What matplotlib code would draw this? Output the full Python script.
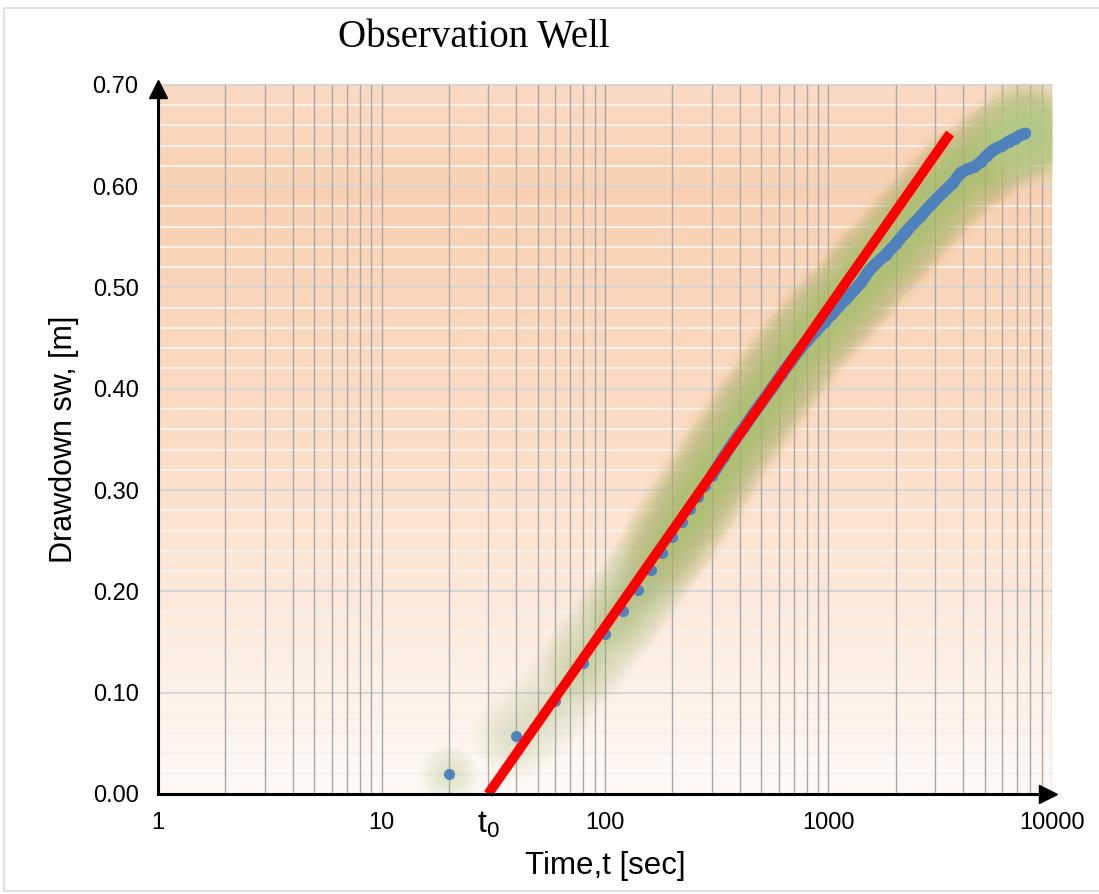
import numpy as np
import matplotlib.pyplot as plt
from matplotlib.colors import LinearSegmentedColormap
from matplotlib.patches import Rectangle
from matplotlib.transforms import offset_copy
from matplotlib.ticker import FixedLocator, LogLocator, NullFormatter

plt.rcParams['font.family'] = ['Liberation Sans', 'DejaVu Sans']
plt.rcParams['mathtext.fontset'] = 'custom'
plt.rcParams['mathtext.rm'] = 'Liberation Sans'
plt.rcParams['mathtext.it'] = 'Liberation Sans'

# observation well drawdown data (time in sec, drawdown in m)
time_s = [20, 40, 60, 80, 100, 120, 140, 160, 180, 200, 220, 240, 260, 280, 300,
          340, 380, 420, 460, 500, 560, 620, 680, 740, 800, 880, 960, 1040, 1120,
          1200, 1300, 1400, 1500, 1600, 1800, 2000, 2200, 2400, 2600, 2800, 3000,
          3300, 3600, 3900, 4200, 4500, 4800, 5100, 5400, 5700, 6000, 6400, 6800,
          7200, 7600]
drawdown = [0.020, 0.057, 0.092, 0.129, 0.158, 0.181, 0.201, 0.221, 0.238, 0.254,
            0.268, 0.281, 0.293, 0.304, 0.314, 0.333, 0.349, 0.362, 0.375, 0.386,
            0.401, 0.415, 0.427, 0.438, 0.447, 0.457, 0.466, 0.474, 0.482, 0.489,
            0.497, 0.505, 0.515, 0.522, 0.532, 0.543, 0.554, 0.563, 0.571, 0.579,
            0.586, 0.595, 0.603, 0.613, 0.617, 0.619, 0.624, 0.630, 0.635, 0.638,
            0.640, 0.644, 0.647, 0.650, 0.652]

# Jacob straight-line fit
trend_t = [30, 3500]
trend_s = [0.0, 0.652]

x_ticks = [1, 10, 100, 1000, 10000]
x_labels = ['1', '10', '100', '1000', '10000']
y_ticks = [0.0, 0.1, 0.2, 0.3, 0.4, 0.5, 0.6, 0.7]

t = np.array(time_s)
s = np.array(drawdown)

fig = plt.figure(figsize=(10.99, 8.94), dpi=100)
ax = fig.add_axes([0.1438, 0.1119, 0.8134, 0.7932])

# background gradient
cmap = LinearSegmentedColormap.from_list('bg', [(0.0, '#FFF9F5'), (0.5, '#FBDDC6'),
                                                 (0.85, '#F9D1B2'), (1.0, '#FBDAC2')])
grad = np.linspace(0, 1, 256).reshape(-1, 1)
ax.imshow(grad, cmap=cmap, aspect='auto', extent=[0, 1, 0, 1], origin='lower',
          transform=ax.transAxes, zorder=0)

ax.set_xscale('log')
ax.set_xlim(1, 10000)
ax.set_ylim(0, 0.70)

# horizontal grid (minor white, major light gray)
for yv in np.arange(0.02, 0.70, 0.02):
    major = abs(yv * 10 - round(yv * 10)) < 1e-6
    ax.axhline(yv, color='#D6D6D6' if major else '#F6F1EC', lw=1.5, zorder=0.8)
ax.axhline(0.70, color='#D6D6D6', lw=1.5, zorder=0.8, clip_on=False)

ax.xaxis.set_major_locator(FixedLocator(x_ticks))
ax.xaxis.set_minor_locator(LogLocator(base=10, subs=np.arange(2, 10)))
ax.xaxis.set_minor_formatter(NullFormatter())
ax.set_xticklabels(x_labels)
ax.set_yticks(y_ticks)
ax.set_yticklabels(['%.2f' % v for v in y_ticks])
ax.grid(True, axis='x', which='both', color='#A8A8A8', lw=1.0)
ax.set_axisbelow('line')

ax.tick_params(axis='both', which='both', length=0, labelsize=17)
ax.tick_params(axis='y', pad=14)
ax.tick_params(axis='x', pad=13)

for sp in ['top', 'right']:
    ax.spines[sp].set_visible(False)
for sp in ['left', 'bottom']:
    ax.spines[sp].set_linewidth(2.2)
    ax.spines[sp].set_zorder(5)

# axis arrow heads
ax.plot([0], [1], marker='^', ms=13, color='k', clip_on=False, zorder=6,
        transform=offset_copy(ax.transAxes, fig=fig, y=-3, units='points'))
ax.plot([1], [0], marker='>', ms=13, color='k', clip_on=False, zorder=6,
        transform=offset_copy(ax.transAxes, fig=fig, x=-3, units='points'))

# soft green glow around the data, building up gradually with time
edge = '#D8B060'
glow = '#A9C27C'
for start in [1, 3, 5, 7, 9, 11]:
    for w in np.arange(62, 10, -5):
        ax.plot(t[start:], s[start:], color=glow, lw=w, alpha=0.032,
                solid_capstyle='round', zorder=2)
for w in np.arange(72, 60, -4):
    ax.plot(t[9:], s[9:], color=edge, lw=w, alpha=0.05, solid_capstyle='round', zorder=2)
for w in np.arange(78, 14, -6):
    ax.plot(t[-1:], s[-1:], 'o', color='#BBD090', ms=w, mew=0, alpha=0.12, zorder=2)
for w in np.arange(42, 8, -5):
    ax.plot(t[:1], s[:1], 'o', color=glow, ms=w, mew=0, alpha=0.05, zorder=2)

# data points
dense = t >= 300
ax.plot(t[dense], s[dense], color='#4F81BD', lw=8.5, solid_capstyle='round', zorder=3)
ax.plot(t, s, 'o', color='#4F81BD', ms=8, mew=0, zorder=3)

# fitted straight line
ax.plot(trend_t, trend_s, color='#FF0000', lw=7, solid_capstyle='butt', zorder=4, clip_on=False)

ax.text(30, -0.016, r'$\mathrm{t}_0$', fontsize=23, ha='center', va='top')

ax.set_xlabel('Time,t [sec]', fontsize=22.5, labelpad=12)
ax.set_ylabel('Drawdown sw, [m]', fontsize=22, labelpad=10)

fig.text(474 / 1099, 1 - 38 / 894, 'Observation Well', fontsize=28,
         family=['Liberation Serif', 'DejaVu Serif'], ha='center', va='center')

fig.patches.append(Rectangle((4 / 1099, 0.003), 1.2, 1 - 8 / 894 - 0.003,
                             transform=fig.transFigure, fill=False,
                             edgecolor='#D9D9D9', lw=1.2))

fig.savefig('out.png', dpi=100)
